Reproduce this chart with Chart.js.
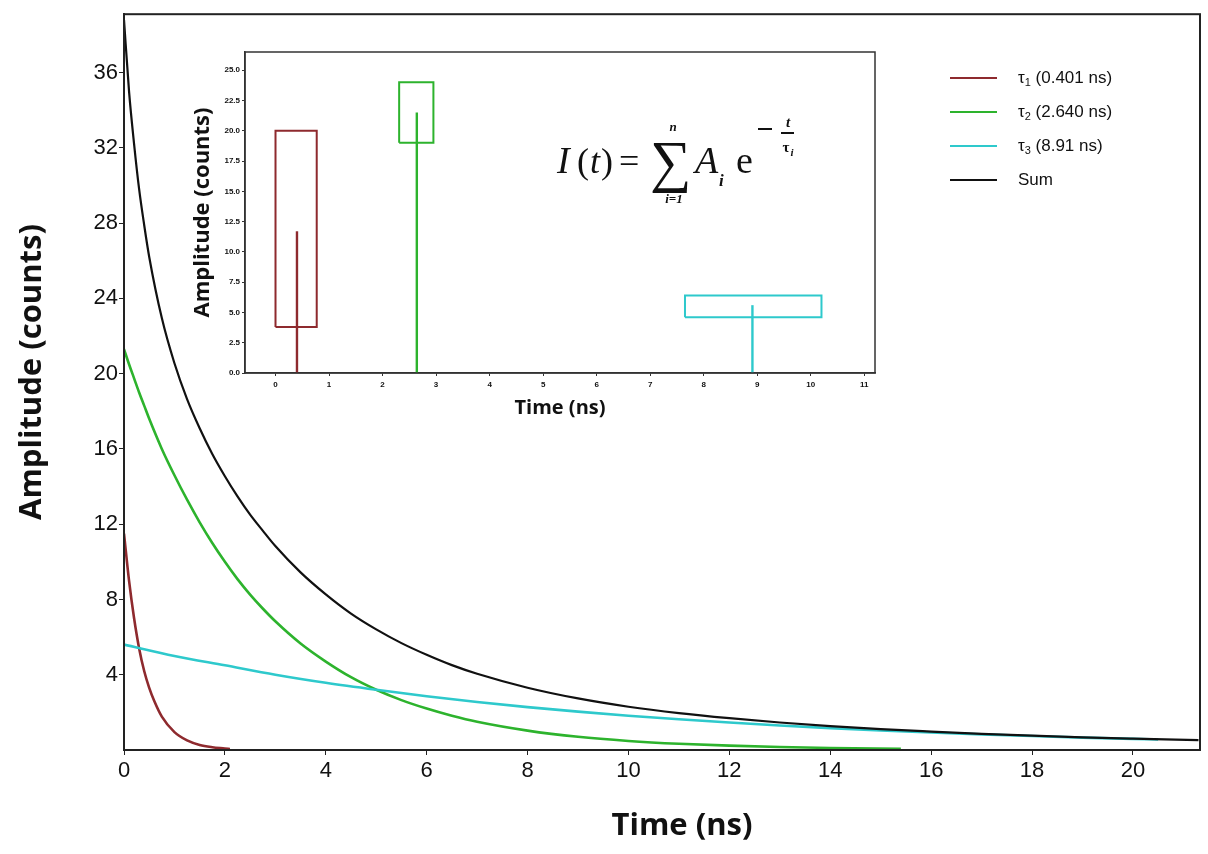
<!DOCTYPE html>
<html>
<head>
<meta charset="utf-8">
<script src="https://cdn.jsdelivr.net/npm/chart.js@4"></script>
<style>
  body { margin: 0; background: #fff; }
  #wrap { position: relative; width: 1208px; height: 854px; }
  #mainChart { position: absolute; left: 0; top: 0; }
  #insetChart { position: absolute; left: 190px; top: 45px; }
</style>
</head>
<body>
<div id="wrap">
  <canvas id="mainChart" width="1208" height="854"></canvas>
  <canvas id="insetChart" width="700" height="390"></canvas>
</div>
<script>
// decay curves (time in ns, amplitude in counts)
const redTime = [0, 0.1, 0.2, 0.3, 0.4, 0.5, 0.6, 0.75, 1.0, 1.25, 1.5, 1.75, 2.0, 2.1];
const redAmp = [11.5, 9.0, 7.0, 5.4, 4.2, 3.3, 2.6, 1.77, 0.95, 0.51, 0.27, 0.15, 0.08, 0.05];

const greenTime = [0, 0.1, 0.2, 0.3, 0.4, 0.5, 0.75, 1, 1.25, 1.5, 1.75, 2, 2.25, 2.5, 2.75, 3, 3.5, 4, 4.5, 5, 5.5, 6, 6.5, 7, 8, 9, 10, 11, 12, 13, 14, 15.4];
const greenAmp = [21.3, 20.5, 19.75, 19.0, 18.3, 17.6, 16.0, 14.6, 13.3, 12.1, 11.0, 10.0, 9.08, 8.26, 7.52, 6.84, 5.66, 4.7, 3.87, 3.2, 2.65, 2.2, 1.82, 1.5, 1.03, 0.7, 0.48, 0.33, 0.23, 0.16, 0.11, 0.06];

const cyanTime = [0, 1, 2, 3, 4, 5, 6, 7, 8, 9, 10, 11, 12, 13, 14, 15, 16, 17, 18, 19, 20, 20.5];
const cyanAmp = [5.6, 5.0, 4.5, 4.0, 3.57, 3.2, 2.86, 2.55, 2.28, 2.04, 1.82, 1.63, 1.46, 1.3, 1.16, 1.04, 0.93, 0.83, 0.74, 0.66, 0.59, 0.56];

const sumTime = [0, 0.1, 0.2, 0.3, 0.4, 0.5, 0.75, 1, 1.25, 1.5, 1.75, 2, 2.25, 2.5, 2.75, 3, 3.5, 4, 4.5, 5, 5.5, 6, 6.5, 7, 8, 9, 10, 11, 12, 13, 14, 15, 16, 17, 18, 19, 20, 21.3];
const sumAmp = [38.8, 35.0, 32.2, 29.8, 27.9, 26.2, 22.95, 20.55, 18.65, 17.1, 15.73, 14.55, 13.48, 12.51, 11.66, 10.84, 9.44, 8.27, 7.25, 6.41, 5.68, 5.06, 4.51, 4.05, 3.31, 2.74, 2.3, 1.96, 1.69, 1.46, 1.27, 1.11, 0.98, 0.86, 0.76, 0.67, 0.6, 0.52];

const seriesLabels = ["τ_1 (0.401 ns)", "τ_2 (2.640 ns)", "τ_3 (8.91 ns)", "Sum"];
const seriesColors = ["#8e2a2e", "#2db32d", "#2ec9cc", "#111111"];

const xTicks = [0, 2, 4, 6, 8, 10, 12, 14, 16, 18, 20];
const yTicks = [4, 8, 12, 16, 20, 24, 28, 32, 36];

// inset: lifetime stems and their boxes
const stemTime = [0.401, 2.64, 8.91];
const stemAmp = [11.7, 21.5, 5.6];
const boxLeft = [0, 2.31, 7.65];
const boxRight = [0.77, 2.95, 10.2];
const boxLow = [3.8, 19.0, 4.6];
const boxHigh = [20.0, 24.0, 6.4];

const insetXTicks = [0, 1, 2, 3, 4, 5, 6, 7, 8, 9, 10, 11];
const insetYTicks = [0, 2.5, 5, 7.5, 10, 12.5, 15, 17.5, 20, 22.5, 25];

function pts(xs, ys) {
  return xs.map((x, i) => ({ x: x, y: ys[i] }));
}

const mainSets = [
  [redTime, redAmp],
  [greenTime, greenAmp],
  [cyanTime, cyanAmp],
  [sumTime, sumAmp],
].map((s, i) => ({
  label: seriesLabels[i],
  data: pts(s[0], s[1]),
  borderColor: seriesColors[i],
  borderWidth: i == 3 ? 2.2 : 2.6,
  pointRadius: 0,
  cubicInterpolationMode: "monotone",
  order: 3 - i,
}));

const mainDecor = {
  id: "mainDecor",
  afterDraw(chart) {
    const ctx = chart.ctx;
    const a = chart.chartArea;
    ctx.save();
    ctx.strokeStyle = "#222";
    ctx.lineWidth = 2;
    ctx.strokeRect(a.left, a.top, a.right - a.left, a.bottom - a.top);

    // axis titles
    ctx.fillStyle = "#111";
    ctx.font = "bold 31px 'Open Sans'";
    ctx.textAlign = "center";
    ctx.textBaseline = "middle";
    ctx.fillText("Time (ns)", 682, 826);
    ctx.translate(32, 372);
    ctx.rotate(-Math.PI / 2);
    ctx.fillText("Amplitude (counts)", 0, 0);
    ctx.restore();

    // legend
    ctx.save();
    ctx.textBaseline = "middle";
    ctx.textAlign = "left";
    const rowY = [78, 112, 146, 180];
    seriesLabels.forEach((lab, i) => {
      const y = rowY[i];
      ctx.strokeStyle = seriesColors[i];
      ctx.lineWidth = 2;
      ctx.beginPath();
      ctx.moveTo(950, y);
      ctx.lineTo(997, y);
      ctx.stroke();
      ctx.fillStyle = "#111";
      let x = 1018;
      const parts = lab.split("_");
      if (parts.length == 2) {
        ctx.font = "17px 'Liberation Sans'";
        ctx.fillText(parts[0], x, y);
        x += ctx.measureText(parts[0]).width;
        ctx.font = "11px 'Liberation Sans'";
        ctx.fillText(parts[1].charAt(0), x, y + 5);
        x += ctx.measureText(parts[1].charAt(0)).width;
        ctx.font = "17px 'Liberation Sans'";
        ctx.fillText(parts[1].slice(1), x, y);
      } else {
        ctx.font = "17px 'Liberation Sans'";
        ctx.fillText(lab, x, y);
      }
    });
    ctx.restore();
  },
};

new Chart(document.getElementById("mainChart"), {
  type: "line",
  data: { datasets: mainSets },
  options: {
    responsive: false,
    animation: false,
    layout: { padding: { left: 0, top: 8, right: 8, bottom: 0 } },
    plugins: { legend: { display: false }, tooltip: { enabled: false } },
    scales: {
      x: {
        type: "linear",
        min: 0,
        max: 21.33,
        afterBuildTicks: (s) => { s.ticks = xTicks.map((v) => ({ value: v })); },
        afterFit: (s) => { s.height = 104; },
        grid: { drawOnChartArea: false, tickLength: 5, color: "#222" },
        border: { color: "#222", width: 2 },
        ticks: { font: { size: 22, family: "'Liberation Sans'" }, color: "#111", padding: 3, maxRotation: 0, autoSkip: false },
      },
      y: {
        min: 0,
        max: 39.1,
        afterBuildTicks: (s) => { s.ticks = yTicks.map((v) => ({ value: v })); },
        afterFit: (s) => { s.width = 124; },
        grid: { drawOnChartArea: false, tickLength: 5, color: "#222" },
        border: { color: "#222", width: 2 },
        ticks: { font: { size: 22, family: "'Liberation Sans'" }, color: "#111", padding: 1, autoSkip: false },
      },
    },
  },
  plugins: [mainDecor],
});

// inset
const insetSets = [];
stemTime.forEach((t, i) => {
  insetSets.push({
    data: [{ x: t, y: 0 }, { x: t, y: stemAmp[i] }],
    borderColor: seriesColors[i],
    borderWidth: 2.4,
    pointRadius: 0,
  });
  insetSets.push({
    data: [
      { x: boxLeft[i], y: boxLow[i] },
      { x: boxRight[i], y: boxLow[i] },
      { x: boxRight[i], y: boxHigh[i] },
      { x: boxLeft[i], y: boxHigh[i] },
      { x: boxLeft[i], y: boxLow[i] },
    ],
    borderColor: seriesColors[i],
    borderWidth: 2,
    pointRadius: 0,
  });
});

const insetDecor = {
  id: "insetDecor",
  beforeDraw(chart) {
    const ctx = chart.ctx;
    const a = chart.chartArea;
    ctx.save();
    ctx.fillStyle = "#fff";
    ctx.fillRect(a.left, a.top, a.right - a.left, a.bottom - a.top);
    ctx.restore();
  },
  afterDraw(chart) {
    const ctx = chart.ctx;
    const a = chart.chartArea;
    ctx.save();
    ctx.strokeStyle = "#333";
    ctx.lineWidth = 1.5;
    ctx.strokeRect(a.left, a.top, a.right - a.left, a.bottom - a.top);

    // formula I(t) = sum A_i e^(-t/tau_i)
    const ox = -190, oy = -45;
    ctx.fillStyle = "#111";
    ctx.textBaseline = "alphabetic";
    ctx.textAlign = "left";
    const serif = "'Liberation Serif'";
    ctx.font = "italic 38px " + serif;
    ctx.fillText("I", 557 + ox, 173 + oy);
    ctx.font = "36px " + serif;
    ctx.fillText("(", 577 + ox, 173 + oy);
    ctx.font = "italic 36px " + serif;
    ctx.fillText("t", 590 + ox, 173 + oy);
    ctx.font = "36px " + serif;
    ctx.fillText(")", 601 + ox, 173 + oy);
    ctx.fillText("=", 619 + ox, 173 + oy);
    ctx.font = "58px " + serif;
    ctx.fillText("\u2211", 650 + ox, 181 + oy);
    ctx.font = "italic bold 13px " + serif;
    ctx.textAlign = "center";
    ctx.fillText("n", 673 + ox, 131 + oy);
    ctx.fillText("i=1", 674 + ox, 203 + oy);
    ctx.textAlign = "left";
    ctx.font = "italic 38px " + serif;
    ctx.fillText("A", 695 + ox, 173 + oy);
    ctx.font = "italic bold 17px " + serif;
    ctx.fillText("i", 719 + ox, 186 + oy);
    ctx.font = "38px " + serif;
    ctx.fillText("e", 736 + ox, 173 + oy);
    ctx.lineWidth = 2;
    ctx.strokeStyle = "#111";
    ctx.beginPath();
    ctx.moveTo(758 + ox, 129 + oy);
    ctx.lineTo(772 + ox, 129 + oy);
    ctx.moveTo(781 + ox, 133 + oy);
    ctx.lineTo(794 + ox, 133 + oy);
    ctx.stroke();
    ctx.textAlign = "center";
    ctx.font = "italic bold 15px " + serif;
    ctx.fillText("t", 788 + ox, 127 + oy);
    ctx.font = "bold 15px " + serif;
    ctx.fillText("\u03c4", 786 + ox, 152 + oy);
    ctx.font = "italic bold 11px " + serif;
    ctx.fillText("i", 792 + ox, 156 + oy);
    ctx.restore();
  },
};

new Chart(document.getElementById("insetChart"), {
  type: "line",
  data: { datasets: insetSets },
  options: {
    responsive: false,
    animation: false,
    layout: { padding: { left: 0, top: 7, right: 15, bottom: 15 } },
    plugins: { legend: { display: false }, tooltip: { enabled: false } },
    scales: {
      x: {
        type: "linear",
        min: -0.57,
        max: 11.2,
        afterBuildTicks: (s) => { s.ticks = insetXTicks.map((v) => ({ value: v })); },
        afterFit: (s) => { s.height = 47; },
        grid: { drawOnChartArea: false, tickLength: 3, color: "#333" },
        border: { color: "#333", width: 1.5 },
        ticks: { font: { size: 8, weight: "bold", family: "'Liberation Sans'" }, color: "#111", padding: 4, maxRotation: 0, autoSkip: false },
        title: { display: true, text: "Time (ns)", font: { size: 20, weight: "bold", family: "'Open Sans'" }, color: "#111", padding: { top: 0, bottom: 0 } },
      },
      y: {
        min: 0,
        max: 26.5,
        afterBuildTicks: (s) => { s.ticks = insetYTicks.map((v) => ({ value: v })); },
        afterFit: (s) => { s.width = 55; },
        grid: { drawOnChartArea: false, tickLength: 3, color: "#333" },
        border: { color: "#333", width: 1.5 },
        ticks: { font: { size: 8, weight: "bold", family: "'Liberation Sans'" }, color: "#111", padding: 2, autoSkip: false, callback: (v) => v.toFixed(1) },
        title: { display: true, text: "Amplitude (counts)", font: { size: 22, weight: "bold", family: "'Open Sans'" }, color: "#111", padding: { top: 0, bottom: 3 } },
      },
    },
  },
  plugins: [insetDecor],
});
</script>
</body>
</html>
